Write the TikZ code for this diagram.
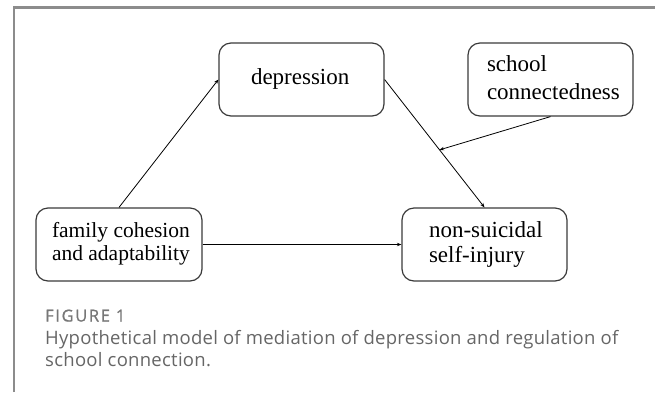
\documentclass[tikz,border=0pt]{standalone}
\usepackage{fontspec}
\setmainfont{Liberation Serif}
\newfontfamily\capfont[LetterSpace=1.5]{Open Sans}
\newfontfamily\figfont[LetterSpace=10,FakeBold=1]{Open Sans}
\usetikzlibrary{arrows.meta,calc}
\definecolor{framegray}{HTML}{8C8C8C}
\definecolor{boxline}{HTML}{3A3A3A}
\definecolor{capgray}{HTML}{666666}
\definecolor{figgray}{HTML}{777777}
\newcommand{\boxtext}[3]{\makebox[#1][l]{\hspace*{#2}\begin{tabular}{@{}l@{}}#3\end{tabular}}}
\begin{document}
\begin{tikzpicture}[x=1pt,y=-1pt,
  box/.style={draw=boxline, line width=1.2pt, rounded corners=12pt, inner sep=0pt,
    minimum height=73pt},
  conn/.style={draw=black, line width=0.8pt, -{Stealth[length=4.5pt,width=3.5pt]}},
]
\useasboundingbox (0,0) rectangle (655,392);
\draw[framegray, line width=2.5pt] (14,392) -- (14,7.5) -- (655,7.5);

\node[box, font=\fontsize{23}{24}\selectfont] (dep) at (301.5,79.5)
  {\boxtext{165pt}{32pt}{depression}};
\node[box, font=\fontsize{23}{28}\selectfont] (school) at (550.5,79.5)
  {\boxtext{165pt}{19pt}{school\\connectedness}};
\node[box, font=\fontsize{21.5}{23.5}\selectfont] (fam) at (119,244.5)
  {\boxtext{166pt}{16pt}{family cohesion\\and adaptability}};
\node[box, font=\fontsize{23}{25}\selectfont] (nssi) at (484.5,244.5)
  {\boxtext{165pt}{27pt}{non-suicidal\\self-injury}};

\coordinate (mod) at ($(dep.east)!0.55!(nssi.north)$);
\draw[conn] (fam.north) -- (dep.west);
\draw[conn] (dep.east) -- (nssi.north);
\draw[conn] (fam.east) -- (nssi.west);
\draw[conn] (school.south) -- (mod);

\node[anchor=base west, inner sep=0pt, text=figgray, font=\figfont\fontsize{16.5}{18}\selectfont] (figlabel) at (45,321.5) {FIGURE 1};
\node[anchor=north west, inner sep=0pt, text=capgray, align=left,
  font=\capfont\fontsize{18.5}{22}\selectfont] (caption) at (45,330.5)
  {Hypothetical model of mediation of depression and regulation of\\school connection.};
\end{tikzpicture}
\end{document}
